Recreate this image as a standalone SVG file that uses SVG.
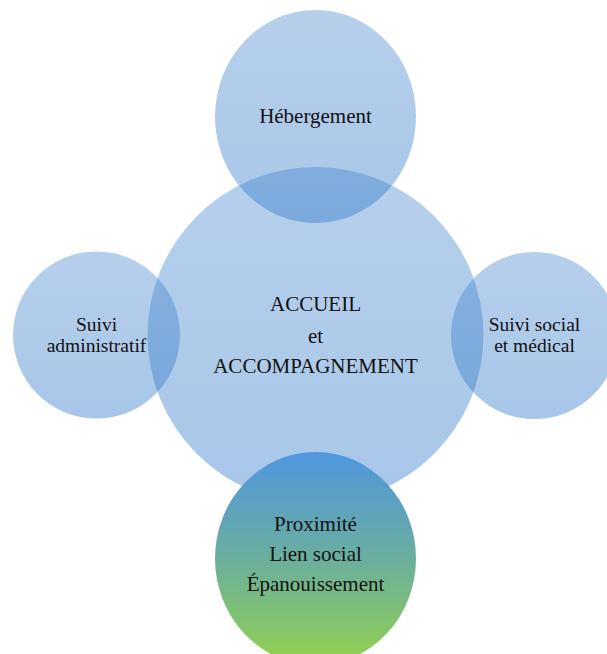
<svg xmlns="http://www.w3.org/2000/svg" width="607" height="654" viewBox="0 0 607 654">
  <defs>
    <linearGradient id="blue" x1="0" y1="0" x2="0" y2="1">
      <stop offset="0" stop-color="#3f82cc" stop-opacity="0.38"/>
      <stop offset="1" stop-color="#2f78c8" stop-opacity="0.42"/>
    </linearGradient>
    <linearGradient id="green" x1="0" y1="0" x2="0" y2="1">
      <stop offset="0" stop-color="#4f96df"/>
      <stop offset="0.5" stop-color="#6aae9e"/>
      <stop offset="1" stop-color="#93d14e"/>
    </linearGradient>
    <style>
      .c { fill: url(#blue); }
      .t { font-family: "Liberation Serif", "Times New Roman", serif; font-size: 21px; fill: #111; text-anchor: middle; }
      .s { font-size: 19.5px; }
    </style>
  </defs>
  <g id="centre">
    <circle class="c" cx="315.5" cy="335" r="168"/>
  </g>
  <g id="hebergement">
    <ellipse class="c" cx="315.5" cy="116.5" rx="100.5" ry="106.5"/>
    <text class="t" x="315.5" y="123">Hébergement</text>
  </g>
  <g id="suivi-administratif">
    <circle class="c" cx="96.5" cy="335" r="83.5"/>
    <text class="t s" x="96.5" y="331">Suivi</text>
    <text class="t s" x="96.5" y="352">administratif</text>
  </g>
  <g id="suivi-social">
    <circle class="c" cx="534.5" cy="335.5" r="83.5"/>
    <text class="t s" x="534.5" y="331">Suivi social</text>
    <text class="t s" x="534.5" y="352">et médical</text>
  </g>
  <g id="centre-text">
    <text class="t" x="315.5" y="311">ACCUEIL</text>
    <text class="t" x="315.5" y="343">et</text>
    <text class="t" x="315.5" y="373">ACCOMPAGNEMENT</text>
  </g>
  <g id="proximite">
    <ellipse cx="315.5" cy="558.5" rx="100.5" ry="106.5" fill="url(#green)"/>
    <text class="t" x="315.5" y="531">Proximité</text>
    <text class="t" x="315.5" y="561">Lien social</text>
    <text class="t" x="315.5" y="591">Épanouissement</text>
  </g>
  <g id="connectors"/>
</svg>
